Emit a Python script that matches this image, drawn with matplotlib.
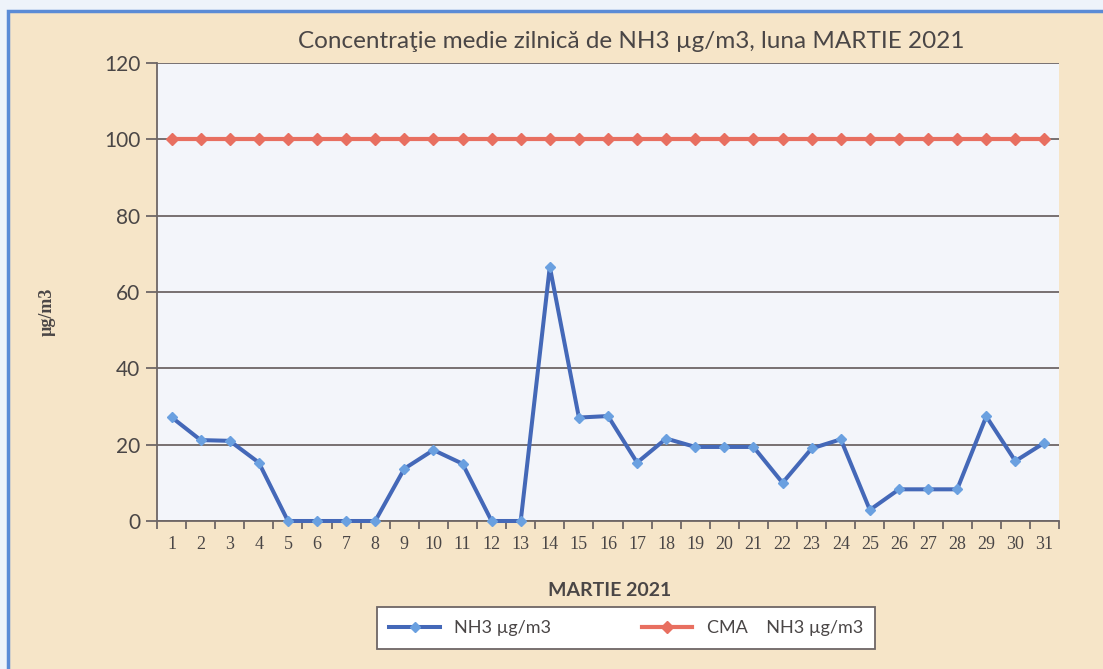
import numpy as np
import matplotlib
matplotlib.use("Agg")
import matplotlib.pyplot as plt
from matplotlib.patches import Rectangle

# daily values
days = list(range(1, 32))
nh3 = [27.2, 21.2, 21.0, 15.3, 0, 0, 0, 0, 13.7, 18.6, 15.0, 0, 0, 66.6,
       27.1, 27.5, 15.3, 21.6, 19.4, 19.4, 19.4, 10.0, 19.0, 21.4, 2.9,
       8.3, 8.3, 8.3, 27.4, 15.7, 20.5]
cma = [100] * 31
y_ticks = [0, 20, 40, 60, 80, 100, 120]

title = "Concentraţie medie zilnică de NH3 µg/m3, luna MARTIE 2021"
x_title = "MARTIE 2021"
y_title = "µg/m3"
label_nh3 = "NH3 µg/m3"
label_cma = "CMA    NH3 µg/m3"

text_col = "#4a4646"
grid_col = "#6e6666"

fig = plt.figure(figsize=(11.03, 6.69), dpi=100, facecolor="#eef3fa")
# beige panel with blue border
fig.patches.append(Rectangle((8 / 1103, -0.05), 1.1, 1 - 11 / 669 + 0.05,
                             transform=fig.transFigure, facecolor="#f6e5c8",
                             edgecolor="#5b8bd6", linewidth=2.5, zorder=-5))

ax = fig.add_axes([157 / 1103, 148 / 669, 902 / 1103, 458 / 669])
ax.set_zorder(2)
ax.set_facecolor("#f3f5fa")

ax.plot(days, nh3, color="#4468b8", linewidth=2.9, marker="D", markersize=5,
        markerfacecolor="#6aa0e0", markeredgecolor="#6aa0e0", label=label_nh3,
        zorder=3, clip_on=False)
ax.plot(days, cma, color="#e86f60", linewidth=3.0, marker="D", markersize=6,
        markerfacecolor="#e86f60", markeredgecolor="#e86f60", label=label_cma,
        zorder=3)

ax.set_xlim(0.5, 31.5)
ax.set_ylim(0, 120)
ax.set_yticks(y_ticks)
ax.set_yticklabels([str(v) for v in y_ticks], fontsize=15, family="Lato",
                   color=text_col)
ax.yaxis.grid(True, color=grid_col, linewidth=1.3)
ax.set_axisbelow(True)
ax.tick_params(axis="y", length=8, width=1.3, color=grid_col, pad=4)

ax.set_xticks(days)
ax.set_xticklabels([str(d) for d in days], fontsize=13,
                   family="Liberation Serif", color=text_col)
ax.set_xticks(np.arange(0.5, 32, 1), minor=True)
ax.tick_params(axis="x", which="major", length=0, pad=11)
ax.tick_params(axis="x", which="minor", length=6, width=1.3, color=grid_col)

for s in ["top", "right"]:
    ax.spines[s].set_visible(False)
for s in ["left", "bottom"]:
    ax.spines[s].set_color(grid_col)
    ax.spines[s].set_linewidth(1.3)

fig.text(631 / 1103, 1 - 41 / 669, title, ha="center", va="center",
         fontsize=17.5, family="Lato", color=text_col)
fig.text(610 / 1103, 1 - 590 / 669, x_title, ha="center", va="center",
         fontsize=14, family="Lato", weight="bold", color=text_col)
fig.text(47 / 1103, 1 - 312 / 669, y_title, ha="center", va="center",
         rotation=90, fontsize=13, family="Liberation Serif", weight="bold",
         color=text_col)

leg = fig.legend(loc="center", bbox_to_anchor=(626 / 1103, 1 - 628 / 669),
                 ncol=2, frameon=True, fancybox=False, edgecolor=grid_col,
                 facecolor="white", framealpha=1, handlelength=2.8,
                 columnspacing=5.0, borderpad=0.7,
                 prop={"family": "Lato", "size": 13})
for t in leg.get_texts():
    t.set_color(text_col)
leg.get_frame().set_linewidth(1.3)

fig.savefig("out.png", dpi=100, facecolor=fig.get_facecolor())
